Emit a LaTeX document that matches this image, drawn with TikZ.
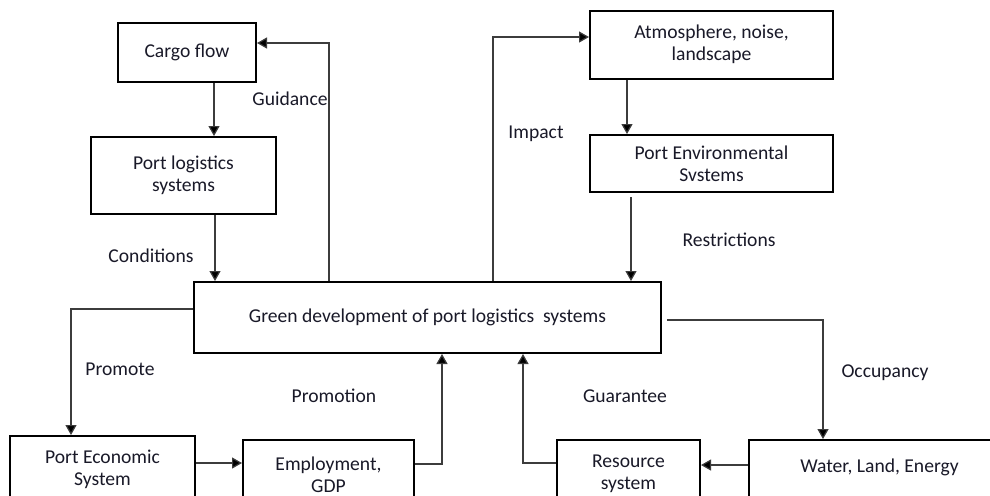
\documentclass[tikz,border=0pt]{standalone}
\usepackage{fontspec}
\setmainfont{Carlito}
\usetikzlibrary{arrows.meta}
\definecolor{txt}{RGB}{25,25,40}
\definecolor{lgray}{RGB}{60,60,60}
\begin{document}
\begin{tikzpicture}[x=0.5pt,y=-0.5pt,
  box/.style={draw=black,line width=1pt,align=center,inner sep=0pt,
    font=\fontsize{9.8}{11}\selectfont,text=txt},
  conn/.style={draw=lgray,line width=0.6pt,
    -{Triangle[length=5pt,width=5.5pt,fill=black]}},
  lbl/.style={font=\fontsize{9.8}{11}\selectfont,text=txt,inner sep=0pt}]
\useasboundingbox (0,0) rectangle (990,495);
\clip (0,0) rectangle (990,495);
\fill[white] (0,0) rectangle (990,495);
% boxes
\node[box,minimum width=69pt,minimum height=29.5pt] (cargo) at (187,52.5) {Cargo flow};
\node[box,minimum width=92.5pt,minimum height=38.5pt] (plog) at (183.5,175.5) {Port logistics\\systems};
\node[box,minimum width=233.5pt,minimum height=35.5pt] (green) at (427.5,317.5) {Green development of port logistics\ \ systems};
\node[box,minimum width=121.5pt,minimum height=34pt] (atmos) at (711.5,44.5) {Atmosphere, noise,\\landscape};
\node[box,minimum width=121.5pt,minimum height=28.5pt] (penv) at (711.5,163.5) {Port Environmental\\Svstems};
\node[box,minimum width=92.5pt,minimum height=33pt] (peco) at (102.5,469) {Port Economic\\System};
\node[box,minimum width=85.5pt,minimum height=35pt] (employ) at (328.5,475) {Employment,\\GDP};
\node[box,minimum width=71.5pt,minimum height=34pt] (res) at (628.5,474) {Resource\\system};
\node[box,minimum width=130.5pt,minimum height=35pt] (water) at (879.5,475) {Water, Land, Energy\\[-5pt]\strut};
% connectors
\draw[conn] ([xshift=13.5pt]cargo.south) -- ([xshift=13.5pt]cargo.south |- plog.north);
\draw[conn] ([xshift=-49.25pt]green.north) |- ([yshift=4.75pt]cargo.east);
\draw[conn] ([xshift=15.75pt]plog.south) -- ([xshift=15.75pt]plog.south |- green.north);
\draw[conn] ([xshift=32.75pt]green.north) |- ([yshift=3.75pt]atmos.west);
\draw[conn] ([xshift=-42.25pt]atmos.south) -- ([xshift=-42.25pt]atmos.south |- penv.north);
\draw[conn] ([xshift=-40.25pt,yshift=-2pt]penv.south) -- ([xshift=-40.25pt]penv.south |- green.north);
\draw[conn] ([yshift=4.25pt]green.west) -| ([xshift=-15.75pt]peco.north);
\draw[conn] ([yshift=3pt]peco.east) -- ([yshift=3pt]peco.east -| employ.west);
\draw[conn] ([yshift=5.5pt]employ.east) -| ([xshift=7.25pt]green.south);
\draw[conn] ([xshift=2.5pt,yshift=-1.25pt]green.east) -| ([xshift=-28.25pt]water.north);
\draw[conn] ([yshift=5pt]water.west) -- ([yshift=5pt]water.west -| res.east);
\draw[conn] ([yshift=5.5pt]res.west) -| ([xshift=47.75pt]green.south);
% labels
\node[lbl] (lguid) at (290,99) {Guidance};
\node[lbl] (lcond) at (151,256) {Conditions};
\node[lbl] (limp) at (536,134) {Impact};
\node[lbl] (lrestr) at (729,240) {Restrictions};
\node[lbl] (lprom) at (120,369) {Promote};
\node[lbl] (lpromo) at (334,396) {Promotion};
\node[lbl] (lguar) at (625,396) {Guarantee};
\node[lbl] (locc) at (885,373) {Occupancy};
\end{tikzpicture}
\end{document}
